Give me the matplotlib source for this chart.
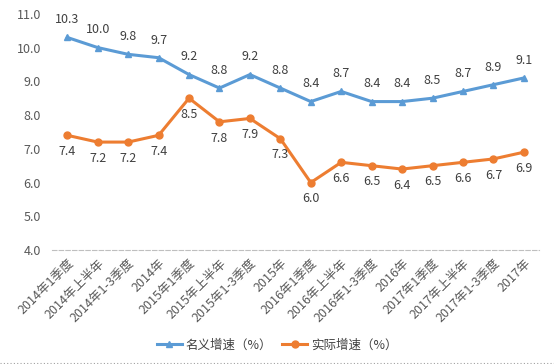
import matplotlib.pyplot as plt
from matplotlib.lines import Line2D

plt.rcParams["font.family"] = ["Noto Sans CJK SC", "DejaVu Sans"]

periods = [
    "2014年1季度", "2014年上半年", "2014年1-3季度", "2014年",
    "2015年1季度", "2015年上半年", "2015年1-3季度", "2015年",
    "2016年1季度", "2016年上半年", "2016年1-3季度", "2016年",
    "2017年1季度", "2017年上半年", "2017年1-3季度", "2017年",
]
nominal = [10.3, 10.0, 9.8, 9.7, 9.2, 8.8, 9.2, 8.8, 8.4, 8.7, 8.4, 8.4, 8.5, 8.7, 8.9, 9.1]
real = [7.4, 7.2, 7.2, 7.4, 8.5, 7.8, 7.9, 7.3, 6.0, 6.6, 6.5, 6.4, 6.5, 6.6, 6.7, 6.9]

blue = "#5B9BD5"
orange = "#ED7D31"
text_color = "#404040"

fig = plt.figure(figsize=(5.54, 3.64), dpi=100)
ax = fig.add_axes([0.094, 0.313, 0.879, 0.649])

x = list(range(len(periods)))
ax.plot(x, nominal, color=blue, lw=2.2, marker="^", ms=5, label="名义增速（%）")
ax.plot(x, real, color=orange, lw=2.2, marker="o", ms=5, label="实际增速（%）")

for i, v in enumerate(nominal):
    ax.annotate(f"{v:.1f}", (i, v), xytext=(0, 8), textcoords="offset points",
                ha="center", va="bottom", fontsize=9, color=text_color)
for i, v in enumerate(real):
    ax.annotate(f"{v:.1f}", (i, v), xytext=(0, -7), textcoords="offset points",
                ha="center", va="top", fontsize=9, color=text_color)

ax.set_xlim(-0.5, len(periods) - 0.5)
ax.set_ylim(4.0, 11.0)
ax.set_yticks([4, 5, 6, 7, 8, 9, 10, 11])
ax.set_yticklabels([f"{t:.1f}" for t in [4, 5, 6, 7, 8, 9, 10, 11]])
ax.set_xticks(x)
ax.set_xticklabels(periods, rotation=45, ha="right", rotation_mode="anchor")
ax.tick_params(axis="both", length=0, labelsize=9, colors="#595959")
ax.tick_params(axis="x", pad=5)
ax.tick_params(axis="y", pad=8)

for side in ["top", "right", "left"]:
    ax.spines[side].set_visible(False)
ax.spines["bottom"].set_color("#BFBFBF")
ax.spines["bottom"].set_linestyle((0, (4, 2)))
ax.spines["bottom"].set_linewidth(0.8)

fig.legend(loc="center", bbox_to_anchor=(0.5, 0.052), ncol=2, frameon=False,
           fontsize=9, handlelength=2, handletextpad=0.3, columnspacing=0.8,
           labelcolor="#404040")

fig.add_artist(Line2D([0, 1], [0.004, 0.004], transform=fig.transFigure,
                      color="#A0A0A0", lw=0.8, ls=(0, (1, 2))))

fig.savefig("out.png", dpi=100)
